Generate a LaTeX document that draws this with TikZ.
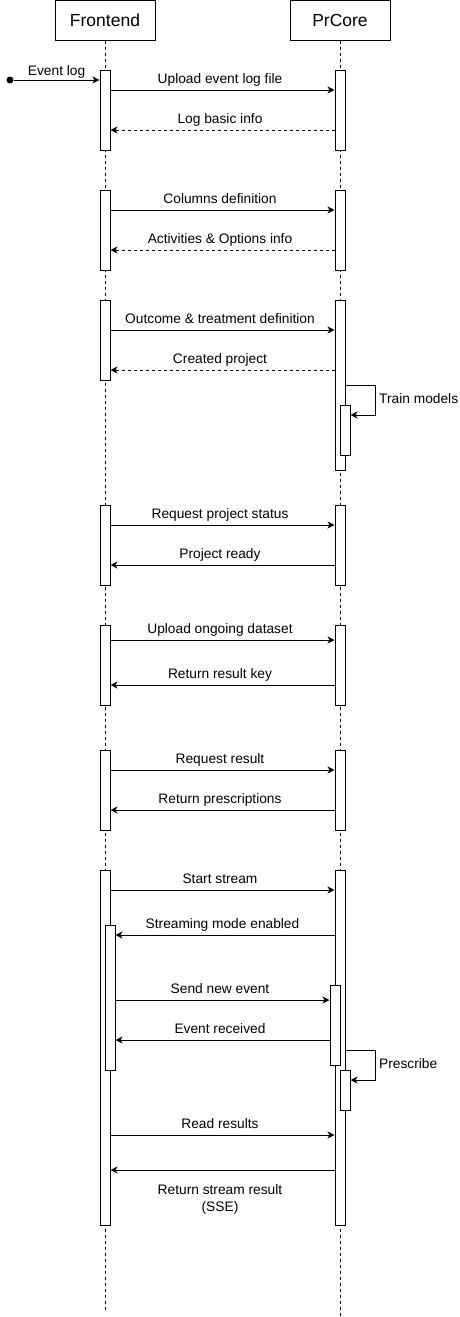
\documentclass[tikz,border=0pt]{standalone}
\usepackage{fontspec}
\setmainfont{Liberation Sans}
\usetikzlibrary{arrows.meta,positioning}

\begin{document}
\begin{tikzpicture}[x=1pt, y=-1pt, >={Stealth[length=7pt,width=7pt,inset=2pt]},
    head/.style={draw, line width=1pt, minimum width=100pt, minimum height=40pt, inner sep=0pt, font=\fontsize{17.5}{20}\selectfont},
    act/.style={draw, line width=1pt, fill=white, minimum width=10pt, minimum height=#1, inner sep=0pt, anchor=north},
    life/.style={line width=0.8pt, dash pattern=on 3pt off 3pt},
    msg/.style={->, line width=1pt},
    reply/.style={->, line width=1pt, dash pattern=on 3pt off 3pt},
    lbl/.style={font=\fontsize{13.75}{16.5}\selectfont, text depth=3pt, xshift=-2.5pt},
]
    \useasboundingbox (0,0) rectangle (460,1317);

    % Participants
    \node[head] (front) at (105,20) {Frontend};
    \node[head] (core) at (340,20) {PrCore};

    % Lifelines
    \coordinate (frontend) at (105,1310);
    \coordinate (coreend) at (340,1316);
    \draw[life] (front.south) -- (frontend);
    \draw[life] (core.south) -- (coreend);

    % Upload event log
    \node[act=80pt] (f1) at (105,70) {};
    \node[act=80pt] (c1) at (340,70) {};
    \node[circle, fill, inner sep=0pt, minimum size=7pt] (start) at (10,80) {};
    \draw[msg] (start) -- (f1.west |- start) node[lbl, midway, above, inner sep=1.5pt, xshift=2.5pt] {Event log};
    \draw[msg] (f1.east |- 0,90) -- (c1.west |- 0,90) node[lbl, midway, above] {Upload event log file};
    \draw[reply] (c1.west |- 0,130) -- (f1.east |- 0,130) node[lbl, midway, above] {Log basic info};

    % Columns definition
    \node[act=80pt] (f2) at (105,190) {};
    \node[act=80pt] (c2) at (340,190) {};
    \draw[msg] (f2.east |- 0,210) -- (c2.west |- 0,210) node[lbl, midway, above] {Columns definition};
    \draw[reply] (c2.west |- 0,250) -- (f2.east |- 0,250) node[lbl, midway, above] {Activities \& Options info};

    % Project creation and training
    \node[act=80pt] (f3) at (105,300) {};
    \node[act=170pt] (c3) at (340,300) {};
    \node[act=50pt] (c3b) at (345,405) {};
    \draw[msg] (f3.east |- 0,330) -- (c3.west |- 0,330) node[lbl, midway, above] {Outcome \& treatment definition};
    \draw[reply] (c3.west |- 0,370) -- (f3.east |- 0,370) node[lbl, midway, above] {Created project};
    \draw[msg] (c3.east |- 0,385) -- ++(30,0) |- (c3b.east |- 0,415);
    \node[lbl, anchor=west, inner sep=2pt, xshift=2.5pt] (train) at (377,400) {Train models};

    % Project status
    \node[act=80pt] (f4) at (105,505) {};
    \node[act=80pt] (c4) at (340,505) {};
    \draw[msg] (f4.east |- 0,525) -- (c4.west |- 0,525) node[lbl, midway, above] {Request project status};
    \draw[msg] (c4.west |- 0,565) -- (f4.east |- 0,565) node[lbl, midway, above] {Project ready};

    % Ongoing dataset
    \node[act=80pt] (f5) at (105,625) {};
    \node[act=80pt] (c5) at (340,625) {};
    \draw[msg] (f5.east |- 0,640) -- (c5.west |- 0,640) node[lbl, midway, above] {Upload ongoing dataset};
    \draw[msg] (c5.west |- 0,685) -- (f5.east |- 0,685) node[lbl, midway, above] {Return result key};

    % Result
    \node[act=80pt] (f6) at (105,750) {};
    \node[act=80pt] (c6) at (340,750) {};
    \draw[msg] (f6.east |- 0,770) -- (c6.west |- 0,770) node[lbl, midway, above] {Request result};
    \draw[msg] (c6.west |- 0,810) -- (f6.east |- 0,810) node[lbl, midway, above] {Return prescriptions};

    % Streaming
    \node[act=355pt] (f7) at (105,870) {};
    \node[act=355pt] (c7) at (340,870) {};
    \node[act=145pt] (f7b) at (110,925) {};
    \node[act=80pt] (c7b) at (335,985) {};
    \node[act=40pt] (c7c) at (345,1070) {};
    \draw[msg] (f7.east |- 0,890) -- (c7.west |- 0,890) node[lbl, midway, above] {Start stream};
    \draw[msg] (c7.west |- 0,935) -- (f7b.east |- 0,935) node[lbl, midway, above] {Streaming mode enabled};
    \draw[msg] (f7b.east |- 0,1000) -- (c7b.west |- 0,1000) node[lbl, midway, above] {Send new event};
    \draw[msg] (c7b.west |- 0,1040) -- (f7b.east |- 0,1040) node[lbl, midway, above] {Event received};
    \draw[msg] (c7.east |- 0,1050) -- ++(30,0) |- (c7c.east |- 0,1080);
    \node[lbl, anchor=west, inner sep=2pt, xshift=2.5pt] (prescribe) at (377,1065) {Prescribe};
    \draw[msg] (f7.east |- 0,1135) -- (c7.west |- 0,1135) node[lbl, midway, above] {Read results};
    \draw[msg] (c7.west |- 0,1170) -- (f7.east |- 0,1170) node[lbl, midway, below=11pt, align=center] {Return stream result\\(SSE)};

\end{tikzpicture}
\end{document}
